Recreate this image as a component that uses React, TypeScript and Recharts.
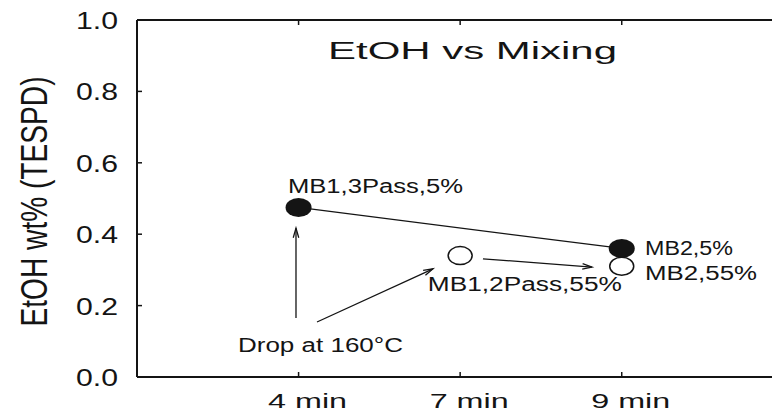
import React from "react";
import { ScatterChart, Scatter, XAxis, YAxis, ReferenceLine } from "recharts";

// mixing time categories (x positions 1, 2, 3)
const categories = ["4 min", "7 min", "9 min"];
const yTicks = [0, 0.2, 0.4, 0.6, 0.8, 1.0];

// 5% series (filled) and 55% series (open)
const fiveCats = ["4 min", "9 min"];
const fiveVals = [0.475, 0.36];
const fiftyFiveCats = ["7 min", "9 min"];
const fiftyFiveVals = [0.34, 0.31];

// text notes, in data units
const noteTexts = ["MB1,3Pass,5%", "MB1,2Pass,55%", "MB2,5%", "MB2,55%", "Drop at 160°C"];
const noteX = [0.934, 1.8, 3.144, 3.144, 0.625];
const noteY = [0.515, 0.241, 0.342, 0.272, 0.07];

// arrows, in data units: [x1, y1, x2, y2]
const arrows = [
  [0.984, 0.165, 0.984, 0.417],
  [1.114, 0.154, 1.832, 0.303],
  [2.141, 0.331, 2.816, 0.308],
];

const FONT = '"Liberation Sans", Arial, Helvetica, sans-serif';
const INK = "#141414";
const X_MAX = 3.93;
const Y_GAP = 19; // gap between y axis and its tick labels
const X_GAP = 31; // x axis to tick label baseline
const noteWidth: Record<string, number> = {
  "MB1,3Pass,5%": 175,
  "MB1,2Pass,55%": 194,
  "MB2,5%": 88,
  "MB2,55%": 112,
  "Drop at 160°C": 165,
};

const pos = (c: string) => categories.indexOf(c) + 1;
const fiveData = fiveCats.map((c, i) => ({ x: pos(c), y: fiveVals[i] }));
const fiftyFiveData = fiftyFiveCats.map((c, i) => ({ x: pos(c), y: fiftyFiveVals[i] }));
const notes = noteTexts.map((t, i) => ({ text: t, x: noteX[i], y: noteY[i] }));

const FilledDot = (p: any) => <ellipse cx={p.cx} cy={p.cy} rx={13} ry={9.5} fill={INK} />;
const OpenDot = (p: any) => (
  <ellipse cx={p.cx} cy={p.cy} rx={12} ry={9} fill="#fff" stroke={INK} strokeWidth={1.5} />
);
const Note = (p: any) => {
  const t = p.payload.text;
  return (
    <text x={p.cx} y={p.cy} fontFamily={FONT} fontSize={20} fill={INK}
      textLength={noteWidth[t]} lengthAdjust="spacingAndGlyphs">{t}</text>
  );
};

const Arrow = (p: any) => {
  const { x1, y1, x2, y2 } = p;
  const a = Math.atan2(y2 - y1, x2 - x1);
  const L = 10, w = 0.28;
  const lx = x2 - L * Math.cos(a - w), ly = y2 - L * Math.sin(a - w);
  const rx = x2 - L * Math.cos(a + w), ry = y2 - L * Math.sin(a + w);
  return (
    <g>
      <line x1={x1} y1={y1} x2={x2} y2={y2} stroke={INK} strokeWidth={1.3} />
      <path d={`M${lx},${ly} L${x2},${y2} L${rx},${ry}`} fill="none" stroke={INK} strokeWidth={1.3} />
    </g>
  );
};

// top frame line (y = 1.0) with small downward ticks at the categories
const TopFrame = (p: any) => {
  const { x1, y1, x2 } = p;
  const unit = (x2 - x1) / X_MAX;
  return (
    <g>
      <line x1={x1} y1={y1} x2={x2} y2={y1} stroke={INK} strokeWidth={2} />
      {categories.map((_, i) => (
        <line key={i} x1={x1 + unit * (i + 1)} x2={x1 + unit * (i + 1)} y1={y1} y2={y1 + 5}
          stroke={INK} strokeWidth={1.5} />
      ))}
    </g>
  );
};

const YTick = ({ x, y, payload }: any) => (
  <g>
    <line x1={x + Y_GAP} x2={x + Y_GAP + 5} y1={y} y2={y} stroke={INK} strokeWidth={1.5} />
    <text x={x} y={y + 9} textAnchor="end" fontFamily={FONT} fontSize={23} fill={INK}
      textLength={42} lengthAdjust="spacingAndGlyphs">{payload.value.toFixed(1)}</text>
  </g>
);

const XTick = ({ x, y, payload }: any) => (
  <g>
    <line x1={x} x2={x} y1={y - X_GAP} y2={y - X_GAP - 5} stroke={INK} strokeWidth={1.5} />
    <text x={x + 9} y={y} textAnchor="middle" fontFamily={FONT} fontSize={21} fill={INK}
      textLength={79} lengthAdjust="spacingAndGlyphs">{categories[payload.value - 1]}</text>
  </g>
);

const YLabel = ({ viewBox }: any) => {
  const cx = viewBox.x + 34;
  const cy = viewBox.y + viewBox.height / 2 + 3;
  return (
    <text x={cx} y={cy} transform={`rotate(-90 ${cx} ${cy})`} textAnchor="middle"
      dominantBaseline="central" fontFamily={FONT} fontSize={36} fill={INK}
      textLength={250} lengthAdjust="spacingAndGlyphs">EtOH wt% (TESPD)</text>
  );
};

export default function App() {
  const axisLine = { stroke: INK, strokeWidth: 2 };
  return (
    <div style={{ position: "absolute", left: 0, top: 0, width: 772, height: 414, background: "#fff" }}>
      <ScatterChart width={772} height={414} margin={{ top: 20, right: 0, bottom: 0, left: 0 }}>
        <XAxis type="number" dataKey="x" domain={[0, X_MAX]} ticks={[1, 2, 3]} interval={0}
          height={37} tickSize={0} tickMargin={X_GAP} tickLine={false} axisLine={axisLine}
          tick={<XTick />} />
        <YAxis type="number" dataKey="y" domain={[0, 1]} ticks={yTicks} interval={0} width={137}
          tickSize={0} tickMargin={Y_GAP} tickLine={false} axisLine={axisLine} tick={<YTick />}
          label={YLabel} />
        <ReferenceLine y={1} shape={TopFrame} ifOverflow="visible" />
        {arrows.map((a, i) => (
          <ReferenceLine key={i} segment={[{ x: a[0], y: a[1] }, { x: a[2], y: a[3] }]}
            shape={Arrow} ifOverflow="visible" />
        ))}
        <Scatter data={fiveData} shape={FilledDot} line={{ stroke: INK, strokeWidth: 1.3 }}
          isAnimationActive={false} />
        <Scatter data={fiftyFiveData} shape={OpenDot} isAnimationActive={false} />
        <Scatter data={notes} shape={Note} isAnimationActive={false} />
      </ScatterChart>
      <svg width={772} height={414} style={{ position: "absolute", left: 0, top: 0, pointerEvents: "none" }}>
        <text x={328} y={59} fontFamily={FONT} fontSize={23} fill={INK}
          textLength={289} lengthAdjust="spacingAndGlyphs">EtOH vs Mixing</text>
      </svg>
    </div>
  );
}
